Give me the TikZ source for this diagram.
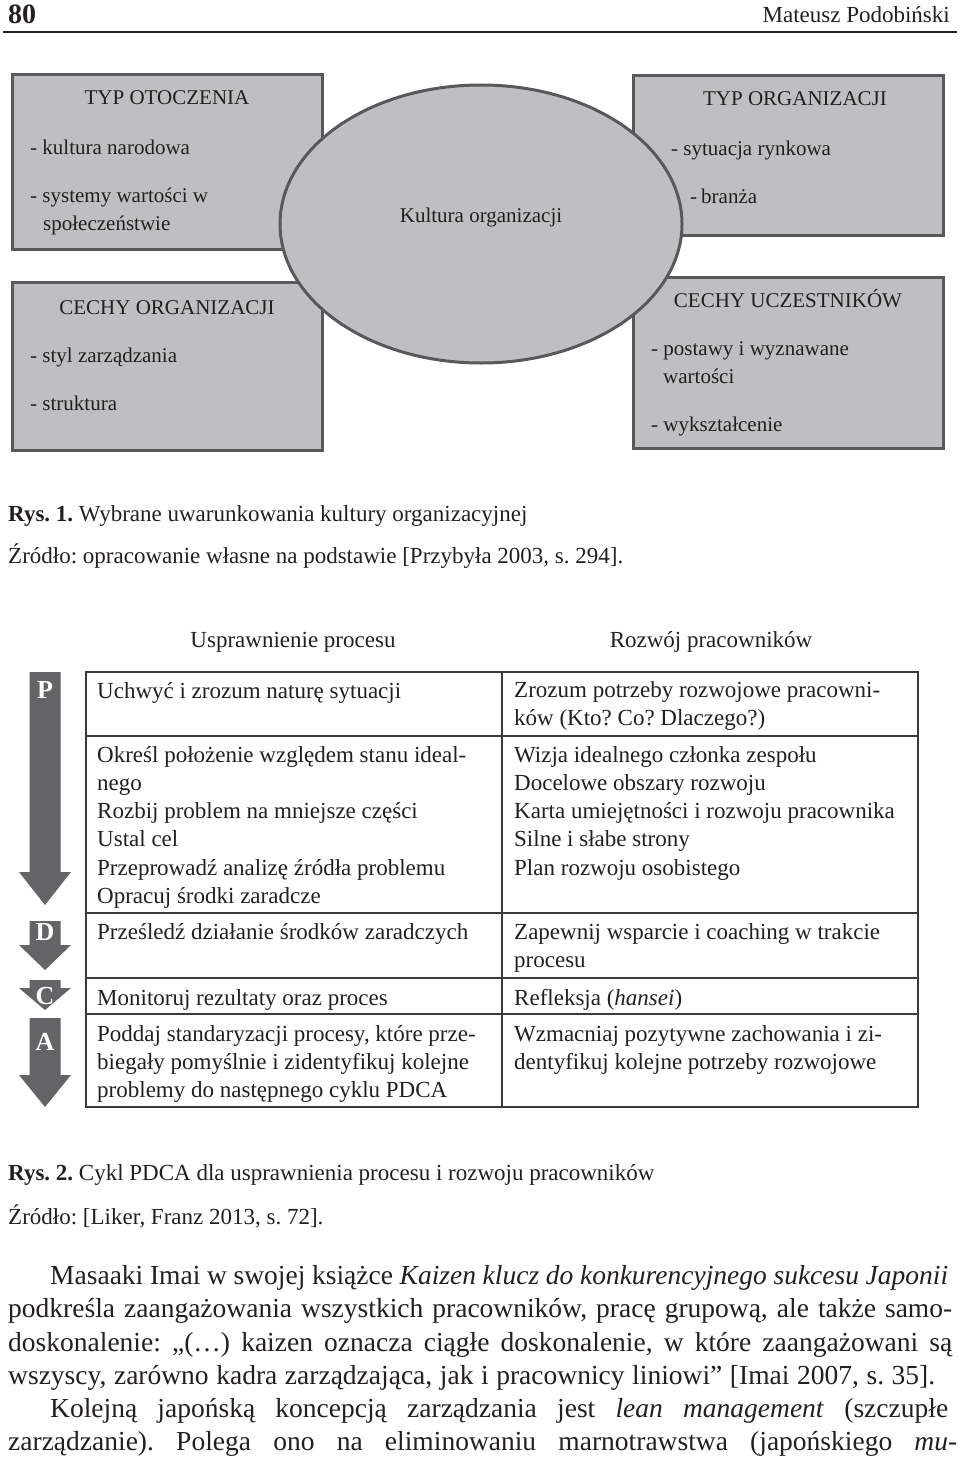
\documentclass[tikz,border=0pt]{standalone}
\usepackage{fontspec}
\setmainfont{Liberation Serif}
\usetikzlibrary{shapes.geometric}
\frenchspacing
\definecolor{boxfill}{HTML}{BEBFC1}
\definecolor{boxline}{HTML}{58595B}
\definecolor{arrowgray}{HTML}{636466}
\definecolor{tableline}{HTML}{3A3A3A}
\definecolor{ink}{HTML}{231F20}
\newcommand\pdcaarrow[3]{\fill[arrowgray] (29.5,#1) -- (29.5,#2) -- (19,#2) -- (45,#3) -- (71,#2) -- (60.5,#2) -- (60.5,#1) -- cycle;}
\tikzset{
  fbox/.style={draw=boxline, line width=3pt, fill=boxfill, inner sep=0},
  ftxt/.style={anchor=base west, inner sep=0, text=ink, font=\fontsize{21}{25}\selectfont},
  fhead/.style={anchor=base, inner sep=0, text=ink, font=\fontsize{21}{25}\selectfont},
  celltxt/.style={anchor=north west, inner sep=0, align=left, text=ink, font=\fontsize{23}{28.2}\selectfont},
  colhead/.style={anchor=base, inner sep=0, text=ink, font=\fontsize{23}{27}\selectfont},
  captxt/.style={anchor=base west, inner sep=0, text=ink, font=\fontsize{23}{27}\selectfont},
  bodytxt/.style={anchor=base west, inner sep=0, text=ink, font=\fontsize{27.5}{33}\selectfont},
  lettertxt/.style={inner sep=0, text=white, font=\fontsize{26}{26}\selectfont\bfseries},
  tbl/.style={draw=tableline, line width=1.4pt}
}
\begin{document}
\begin{tikzpicture}[x=1pt,y=-1pt]
\useasboundingbox (0,0) rectangle (960,1461);
% page header
\node[anchor=base west, inner sep=0, text=ink, font=\fontsize{28}{30}\selectfont\bfseries] (pnum) at (8,24) {80};
\node[anchor=base east, inner sep=0, text=ink, font=\fontsize{23}{27}\selectfont] (auth) at (950,23) {Mateusz Podobiński};
\coordinate (rl) at (3,32);
\coordinate (rr) at (957,32);
\draw[line width=1.5pt, ink] (rl) -- (rr);

% Figure 1
\node[fbox, minimum width=310pt, minimum height=174pt] (otocz) at (167,162) {};
\node[fbox, minimum width=310pt, minimum height=168pt] (cechorg) at (167,366) {};
\node[fbox, minimum width=310pt, minimum height=159pt] (typorg) at (788,155.5) {};
\node[fbox, minimum width=310pt, minimum height=171pt] (uczest) at (788,362.5) {};
\node[fbox, ellipse, minimum width=402pt, minimum height=278pt] (kult) at (481,224) {};

\node[fhead] (t1) at (167,105) {TYP OTOCZENIA};
\node[ftxt] (t1a) at (30,154) {- kultura narodowa};
\node[ftxt] (t1b) at (30,202) {- systemy wartości w};
\node[ftxt] (t1c) at (43,230) {społeczeństwie};

\node[fhead] (t2) at (167,314) {CECHY ORGANIZACJI};
\node[ftxt] (t2a) at (30,362) {- styl zarządzania};
\node[ftxt] (t2b) at (30,410) {- struktura};

\node[fhead] (kt) at (481,222) {Kultura organizacji};

\node[fhead] (t3) at (795,106) {TYP ORGANIZACJI};
\node[ftxt] (t3a) at (671,155) {- sytuacja rynkowa};
\node[ftxt] (t3b) at (690,203) {-};
\node[ftxt] (t3c) at (701,203) {branża};

\node[fhead] (t4) at (788,307) {CECHY UCZESTNIKÓW};
\node[ftxt] (t4a) at (651,355) {- postawy i wyznawane};
\node[ftxt] (t4b) at (663,383) {wartości};
\node[ftxt] (t4c) at (651,431) {- wykształcenie};

% captions figure 1
\node[captxt] (c1) at (8,521) {\textbf{Rys. 1.} Wybrane uwarunkowania kultury organizacyjnej};
\node[captxt] (s1) at (8,563) {Źródło: opracowanie własne na podstawie [Przybyła 2003, s. 294].};

% Figure 2
\node[colhead] (h1) at (293,647) {Usprawnienie procesu};
\node[colhead] (h2) at (711,647) {Rozwój pracowników};

\draw[tbl] (86,672) rectangle (918,1107);
\draw[tbl] (502,672) -- (502,1107);
\draw[tbl] (86,736) -- (918,736);
\draw[tbl] (86,913) -- (918,913);
\draw[tbl] (86,978) -- (918,978);
\draw[tbl] (86,1014) -- (918,1014);

\node[celltxt] (l1) at (97,678.3) {\strut Uchwyć i zrozum naturę sytuacji};
\node[celltxt] (l2) at (97,742.3) {\strut Określ położenie względem stanu ideal-\\nego\\Rozbij problem na mniejsze części\\Ustal cel\\Przeprowadź analizę źródła problemu\\Opracuj środki zaradcze};
\node[celltxt] (l3) at (97,919.3) {\strut Prześledź działanie środków zaradczych};
\node[celltxt] (l4) at (97,985.3) {\strut Monitoruj rezultaty oraz proces};
\node[celltxt] (l5) at (97,1021.3) {\strut Poddaj standaryzacji procesy, które prze-\\biegały pomyślnie i zidentyfikuj kolejne\\problemy do następnego cyklu PDCA};

\node[celltxt] (r1) at (514,677.3) {\strut Zrozum potrzeby rozwojowe pracowni-\\ków (Kto? Co? Dlaczego?)};
\node[celltxt] (r2) at (514,742.3) {\strut Wizja idealnego członka zespołu\\Docelowe obszary rozwoju\\Karta umiejętności i rozwoju pracownika\\Silne i słabe strony\\Plan rozwoju osobistego};
\node[celltxt] (r3) at (514,919.3) {\strut Zapewnij wsparcie i coaching w trakcie\\procesu};
\node[celltxt] (r4) at (514,985.3) {\strut Refleksja (\textit{hansei})};
\node[celltxt] (r5) at (514,1021.3) {\strut Wzmacniaj pozytywne zachowania i zi-\\dentyfikuj kolejne potrzeby rozwojowe};

% PDCA arrows
\pdcaarrow{672}{872}{905}
\pdcaarrow{921}{945}{970}
\pdcaarrow{980}{988}{1010}
\pdcaarrow{1018}{1075}{1107}
\node[lettertxt] (lp) at (45,690) {P};
\node[lettertxt] (ld) at (45,932) {D};
\node[lettertxt] (lc) at (45,996) {C};
\node[lettertxt] (la) at (45,1042) {A};

% captions figure 2
\node[captxt] (c2) at (8,1180) {\textbf{Rys. 2.} Cykl PDCA dla usprawnienia procesu i rozwoju pracowników};
\node[captxt] (s2) at (8,1224) {Źródło: [Liker, Franz 2013, s. 72].};

% body text
\node[bodytxt] (b1) at (50,1284) {\makebox[898pt][s]{Masaaki Imai w swojej książce \textit{Kaizen klucz do konkurencyjnego sukcesu Japonii}}};
\node[bodytxt] (b2) at (8,1317) {\makebox[944pt][s]{podkreśla zaangażowania wszystkich pracowników, pracę grupową, ale także samo-}};
\node[bodytxt] (b3) at (8,1351) {\makebox[944pt][s]{doskonalenie: „(…) kaizen oznacza ciągłe doskonalenie, w które zaangażowani są}};
\node[bodytxt] (b4) at (8,1384) {\makebox[927pt][s]{wszyscy, zarówno kadra zarządzająca, jak i pracownicy liniowi” [Imai 2007, s. 35].}};
\node[bodytxt] (b5) at (50,1417) {\makebox[898pt][s]{Kolejną japońską koncepcją zarządzania jest \textit{lean management} (szczupłe}};
\node[bodytxt] (b6) at (8,1450) {\makebox[949pt][s]{zarządzanie). Polega ono na eliminowaniu marnotrawstwa (japońskiego \textit{mu-}}};
\end{tikzpicture}
\end{document}
